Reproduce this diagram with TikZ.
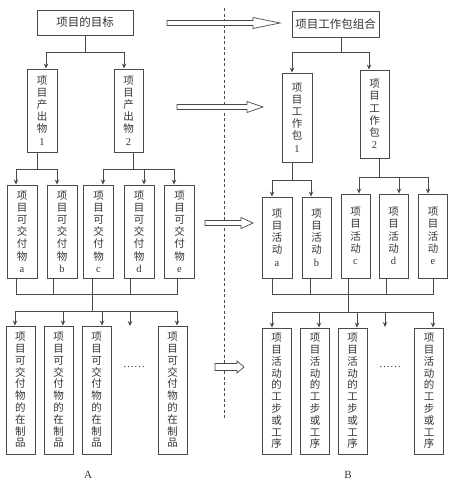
\documentclass[tikz,border=0pt]{standalone}
\usepackage{fontspec}
\setmainfont{Liberation Serif}
\newfontfamily\cjk{Noto Sans CJK SC}
\usetikzlibrary{arrows.meta}
\definecolor{ln}{HTML}{4A4A4A}
\definecolor{tx}{HTML}{333333}
\tikzset{
  box/.style={draw=ln, line width=0.9pt, inner sep=0pt, align=center, text=tx,
    font=\cjk\fontsize{10.5}{12.2}\selectfont},
  widebox/.style={box, font=\cjk\fontsize{11.5}{13}\selectfont},
  tallbox/.style={box, font=\cjk\fontsize{10.5}{11.8}\selectfont},
  con/.style={draw=ln, line width=0.8pt},
  arr/.style={con, -{Stealth[length=5pt,width=4.5pt]}},
  hollow/.style={draw=ln, line width=0.7pt, fill=white},
  lbl/.style={text=tx, font=\fontsize{11}{12}\selectfont}
}
\newcommand{\ltn}[1]{{\rmfamily #1}}
\begin{document}
\begin{tikzpicture}[x=1pt,y=-1pt]
\useasboundingbox (0,0) rectangle (455,485);
% dashed separator
\draw[ln, line width=0.7pt, dash pattern=on 3pt off 2.5pt] (224,8) -- (224,420);
% hollow arrows
\draw[hollow] (167,20.5) -- (253,20.5) -- (253,17.5) -- (280,23) -- (253,28.5) -- (253,25.5) -- (167,25.5) -- cycle;
\draw[hollow] (177,104.5) -- (247,104.5) -- (247,101.5) -- (263,107) -- (247,112.5) -- (247,109.5) -- (177,109.5) -- cycle;
\draw[hollow] (205,220.5) -- (241,220.5) -- (241,217.5) -- (253,223) -- (241,228.5) -- (241,225.5) -- (205,225.5) -- cycle;
\draw[hollow] (215,363.5) -- (237,363.5) -- (237,361) -- (244,367) -- (237,373) -- (237,370.5) -- (215,370.5) -- cycle;

% ===== Left (A) =====
\node[widebox, minimum width=96, minimum height=25] (goal) at (85,22.5) {项目的目标};
\node[box, minimum width=30, minimum height=83] (p1) at (42,110.5) {项\\目\\产\\出\\物\\\ltn{1}};
\node[box, minimum width=29, minimum height=83] (p2) at (128.5,110.5) {项\\目\\产\\出\\物\\\ltn{2}};
\foreach \n/\x/\l in {da/22/a, db/62/b, dc/98.5/c, dd/139/d, de/179.5/e}
  \node[box, minimum width=30, minimum height=93] (\n) at (\x,231.5) {项\\目\\可\\交\\付\\物\\\ltn{\l}};
\foreach \n/\x in {w1/20.5, w2/58.5, w3/96.5, w5/172.5}
  \node[tallbox, minimum width=29, minimum height=128] (\n) at (\x,390) {项\\目\\可\\交\\付\\物\\的\\在\\制\\品};
\node[lbl] (dotsA) at (134,367) {……};
\node[lbl] (labA) at (88,475) {A};

\coordinate (j0) at (85,52);
\draw[con] (goal.south) -- (j0);
\draw[arr] (j0) -| ([xshift=4]p1.north);
\draw[arr] (j0) -| ([xshift=-4.5]p2.north);

\coordinate (j1) at (37,169);
\draw[con] ([xshift=-5]p1.south) -- (j1);
\draw[arr] (j1) -| ([xshift=-6]da.north);
\draw[arr] (j1) -| ([xshift=-5]db.north);
\coordinate (j2) at (133,169);
\draw[con] ([xshift=4.5]p2.south) -- (j2);
\draw[arr] (j2) -| ([xshift=4.5]dc.north);
\draw[arr] (j2) -| ([xshift=-5.5]de.north);
\draw[arr] ([xshift=5]dd.north |- j2) -- ([xshift=5]dd.north);

\coordinate (b1) at (92,294);
\draw[con] ([xshift=-6]da.south) |- (b1);
\draw[con] ([xshift=-2.5]de.south) |- (b1);
\draw[con] ([xshift=-9]db.south) -- ([xshift=-9]db.south |- b1);
\draw[con] ([xshift=-6.5]dc.south) -- ([xshift=-6.5]dc.south |- b1);
\draw[con] ([xshift=-9]dd.south) -- ([xshift=-9]dd.south |- b1);
\coordinate (b2) at (92,311);
\draw[con] (b1) -- (b2);
\draw[arr] (b2) -| ([xshift=-5.5]w1.north);
\draw[arr] (b2) -| ([xshift=4.5]w5.north);
\draw[arr] ([xshift=4.5]w2.north |- b2) -- ([xshift=4.5]w2.north);
\draw[arr] ([xshift=5.5]w3.north |- b2) -- ([xshift=5.5]w3.north);
\coordinate (w4) at (130,326);
\draw[arr] (w4 |- b2) -- (w4);

% ===== Right (B) =====
\node[widebox, minimum width=87, minimum height=26] (top) at (335.5,24) {项目工作包组合};
\node[box, minimum width=30, minimum height=89] (q1) at (297,117.5) {项\\目\\工\\作\\包\\\ltn{1}};
\node[box, minimum width=29, minimum height=88] (q2) at (374.5,114) {项\\目\\工\\作\\包\\\ltn{2}};
\node[box, minimum width=30, minimum height=81] (ra) at (277,237.5) {项\\目\\活\\动\\\ltn{a}};
\node[box, minimum width=29, minimum height=81] (rb) at (316.5,237.5) {项\\目\\活\\动\\\ltn{b}};
\foreach \n/\x/\l in {rc/355.5/c, rd/393.5/d, re/433/e}
  \node[box, minimum width=29, minimum height=84] (\n) at (\x,236) {项\\目\\活\\动\\\ltn{\l}};
\foreach \n/\x in {s1/276.5, s2/315, s3/352.5, s5/429}
  \node[tallbox, minimum width=29, minimum height=126] (\n) at (\x,391) {项\\目\\活\\动\\的\\工\\步\\或\\工\\序};
\node[lbl] (dotsB) at (390,367) {……};
\node[lbl] (labB) at (348,475) {B};

\coordinate (k0) at (341,52);
\draw[con] ([xshift=5.5]top.south) -- (k0);
\draw[arr] (k0) -| ([xshift=-5]q1.north);
\draw[arr] (k0) -| ([xshift=-5.5]q2.north);

\coordinate (k1) at (292,180);
\draw[con] ([xshift=-5]q1.south) -- (k1);
\draw[arr] (k1) -| ([xshift=-5]ra.north);
\draw[arr] (k1) -| ([xshift=-5.5]rb.north);
\coordinate (k2) at (379,177);
\draw[con] ([xshift=4.5]q2.south) -- (k2);
\draw[arr] (k2) -| ([xshift=3.5]rc.north);
\draw[arr] (k2) -| ([xshift=-5]re.north);
\draw[arr] ([xshift=5.5]rd.north |- k2) -- ([xshift=5.5]rd.north);

\coordinate (c1) at (348,294);
\draw[con] ([xshift=-5]ra.south) |- (c1);
\draw[con] (re.south) |- (c1);
\draw[con] ([xshift=-6.5]rb.south) -- ([xshift=-6.5]rb.south |- c1);
\draw[con] ([xshift=-7.5]rc.south) -- ([xshift=-7.5]rc.south |- c1);
\draw[con] ([xshift=-7.5]rd.south) -- ([xshift=-7.5]rd.south |- c1);
\coordinate (c2) at (348,312);
\draw[con] (c1) -- (c2);
\draw[arr] (c2) -| ([xshift=-4.5]s1.north);
\draw[arr] (c2) -| ([xshift=4]s5.north);
\draw[arr] ([xshift=4]s2.north |- c2) -- ([xshift=4]s2.north);
\draw[arr] ([xshift=4.5]s3.north |- c2) -- ([xshift=4.5]s3.north);
\coordinate (s4) at (385,327);
\draw[arr] (s4 |- c2) -- (s4);
\end{tikzpicture}
\end{document}
